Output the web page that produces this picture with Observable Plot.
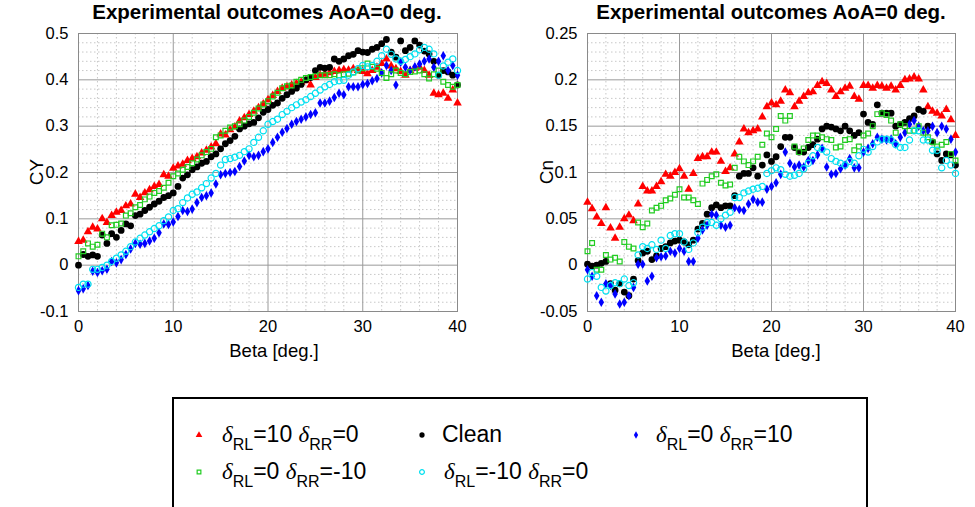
<!DOCTYPE html>
<html><head><meta charset="utf-8">
<script src="https://cdn.jsdelivr.net/npm/d3@7"></script>
<script src="https://cdn.jsdelivr.net/npm/@observablehq/plot@0.6"></script>
<style>
body{margin:0;background:#fff;}
#wrap{position:relative;width:975px;height:507px;overflow:hidden;font-family:"Liberation Sans",Arial,sans-serif;color:#000;}
.chart{position:absolute;top:0;}
.title{position:absolute;top:0px;font-weight:bold;font-size:20.5px;white-space:nowrap;transform:translateX(-50%);}
.xlab{position:absolute;top:340px;font-size:18.5px;white-space:nowrap;transform:translateX(-50%);}
.ylab{position:absolute;font-size:19px;white-space:nowrap;transform:translate(-50%,-50%) rotate(-90deg);}
#legend{position:absolute;left:172px;top:397px;width:696px;height:130px;border:2px solid #000;box-sizing:border-box;}
.item{position:absolute;font-size:23px;line-height:26px;white-space:nowrap;}
.d{font-family:"Liberation Serif",serif;font-style:italic;}
.s{font-size:16px;position:relative;top:8px;}
.sym{position:absolute;}
</style>
</head><body>
<div id="wrap"></div>
<script>
const beta = [0,0.5,1,1.5,2,2.5,3,3.5,4,4.5,5,5.5,6,6.5,7,7.5,8,8.5,9,9.5,10,10.5,11,11.5,12,12.5,13,13.5,14,14.5,15,15.5,16,16.5,17,17.5,18,18.5,19,19.5,20,20.5,21,21.5,22,22.5,23,23.5,24,24.5,25,25.5,26,26.5,27,27.5,28,28.5,29,29.5,30,30.5,31,31.5,32,32.5,33,33.5,34,34.5,35,35.5,36,36.5,37,37.5,38,38.5,39,39.5,40];

const seriesNames = ["δRL=10 δRR=0","Clean","δRL=0 δRR=10","δRL=0 δRR=-10","δRL=-10 δRR=0"];

// CY (left panel)
const cyRL10 = [0.051,0.054,0.072,0.082,0.078,0.100,0.092,0.107,0.114,0.118,0.128,0.132,0.153,0.146,0.156,0.163,0.170,0.174,0.195,0.192,0.209,0.214,0.218,0.226,0.230,0.234,0.242,0.248,0.255,0.262,0.283,0.281,0.292,0.298,0.311,0.318,0.325,0.332,0.340,0.348,0.357,0.366,0.375,0.382,0.385,0.389,0.392,0.395,0.398,0.389,0.405,0.410,0.412,0.415,0.418,0.420,0.422,0.421,0.424,0.420,0.418,0.413,0.420,0.427,0.435,0.445,0.430,0.424,0.418,0.410,0.420,0.425,0.427,0.420,0.410,0.371,0.368,0.371,0.360,0.378,0.350];
const cyClean = [0.000,0.023,0.019,0.022,0.019,0.065,0.047,0.068,0.060,0.075,0.089,0.085,0.107,0.110,0.118,0.125,0.132,0.138,0.146,0.150,0.156,0.170,0.188,0.195,0.206,0.212,0.220,0.224,0.234,0.240,0.251,0.262,0.269,0.278,0.294,0.300,0.305,0.308,0.318,0.330,0.336,0.345,0.350,0.360,0.368,0.375,0.382,0.390,0.400,0.405,0.420,0.427,0.425,0.427,0.445,0.440,0.445,0.452,0.455,0.463,0.460,0.459,0.466,0.470,0.478,0.487,0.460,0.449,0.484,0.463,0.470,0.484,0.475,0.462,0.456,0.440,0.410,0.420,0.417,0.410,0.389];
const cyRR10 = [-0.055,-0.051,-0.044,-0.013,-0.016,-0.012,-0.009,0.008,0.005,0.012,0.023,0.035,0.047,0.045,0.047,0.052,0.058,0.070,0.089,0.088,0.093,0.105,0.118,0.116,0.121,0.135,0.146,0.150,0.156,0.175,0.195,0.198,0.200,0.202,0.213,0.225,0.237,0.234,0.237,0.245,0.251,0.265,0.276,0.287,0.295,0.304,0.310,0.315,0.320,0.325,0.329,0.350,0.350,0.354,0.362,0.371,0.368,0.385,0.385,0.385,0.390,0.392,0.398,0.403,0.415,0.431,0.420,0.389,0.438,0.427,0.420,0.428,0.434,0.440,0.445,0.427,0.440,0.452,0.420,0.431,0.410];
const cyRRm10 = [0.019,0.030,0.047,0.040,0.044,0.068,0.060,0.086,0.087,0.090,0.107,0.112,0.125,0.130,0.142,0.148,0.156,0.160,0.167,0.178,0.192,0.198,0.206,0.212,0.220,0.228,0.237,0.244,0.251,0.276,0.280,0.290,0.297,0.300,0.304,0.312,0.320,0.329,0.338,0.347,0.354,0.364,0.372,0.382,0.386,0.388,0.396,0.400,0.404,0.406,0.408,0.410,0.410,0.410,0.412,0.410,0.412,0.413,0.416,0.420,0.425,0.435,0.428,0.424,0.415,0.404,0.412,0.420,0.415,0.412,0.417,0.418,0.420,0.412,0.403,0.412,0.420,0.396,0.389,0.385,0.389];
const cyRLm10 = [-0.048,-0.041,-0.041,-0.009,-0.009,-0.005,0.000,0.008,0.015,0.022,0.030,0.040,0.050,0.058,0.065,0.072,0.079,0.085,0.096,0.104,0.118,0.122,0.135,0.145,0.153,0.158,0.167,0.176,0.188,0.198,0.216,0.228,0.230,0.233,0.237,0.245,0.251,0.265,0.276,0.290,0.304,0.310,0.315,0.325,0.332,0.340,0.346,0.352,0.357,0.364,0.371,0.378,0.385,0.390,0.396,0.398,0.399,0.410,0.417,0.424,0.431,0.428,0.431,0.440,0.452,0.466,0.455,0.445,0.440,0.444,0.450,0.456,0.465,0.470,0.466,0.456,0.410,0.430,0.438,0.445,0.420];

// Cn (right panel)
const cnRL10 = [0.068,0.061,0.052,0.045,0.062,0.040,0.029,0.041,0.050,0.054,0.048,0.066,0.085,0.080,0.080,0.085,0.090,0.098,0.096,0.100,0.104,0.096,0.082,0.099,0.115,0.117,0.117,0.122,0.122,0.112,0.101,0.105,0.120,0.133,0.147,0.143,0.145,0.147,0.160,0.171,0.175,0.173,0.177,0.189,0.186,0.171,0.177,0.182,0.186,0.187,0.194,0.198,0.196,0.189,0.182,0.187,0.191,0.193,0.182,0.179,0.194,0.194,0.191,0.194,0.193,0.191,0.193,0.189,0.194,0.200,0.201,0.203,0.201,0.189,0.171,0.166,0.164,0.161,0.168,0.157,0.140];
const cnClean = [0.001,-0.001,0.000,0.002,0.004,-0.020,-0.027,-0.020,-0.029,-0.033,-0.015,0.005,0.013,0.015,0.006,0.010,0.018,0.020,0.024,0.026,0.027,0.025,0.022,0.027,0.039,0.045,0.055,0.062,0.065,0.062,0.064,0.064,0.075,0.096,0.099,0.099,0.105,0.096,0.108,0.119,0.112,0.117,0.128,0.138,0.138,0.127,0.122,0.122,0.127,0.130,0.136,0.147,0.150,0.149,0.147,0.145,0.150,0.145,0.140,0.143,0.163,0.154,0.152,0.173,0.164,0.164,0.164,0.150,0.152,0.154,0.158,0.161,0.168,0.166,0.150,0.133,0.120,0.113,0.120,0.119,0.108];
const cnRR10 = [-0.005,-0.012,-0.033,-0.040,-0.020,-0.022,-0.031,-0.042,-0.040,-0.033,-0.024,0.001,0.001,-0.017,-0.012,0.008,0.009,0.010,0.015,0.013,0.018,0.015,0.004,0.004,0.029,0.038,0.043,0.055,0.054,0.043,0.041,0.043,0.062,0.060,0.059,0.066,0.071,0.068,0.068,0.082,0.085,0.089,0.098,0.122,0.110,0.106,0.108,0.106,0.113,0.113,0.119,0.126,0.106,0.098,0.099,0.104,0.108,0.115,0.105,0.105,0.122,0.126,0.131,0.138,0.136,0.135,0.136,0.131,0.138,0.143,0.152,0.156,0.150,0.145,0.145,0.150,0.143,0.150,0.147,0.136,0.122];
const cnRRm10 = [0.015,0.024,-0.005,-0.005,0.011,0.006,0.008,0.004,0.025,0.020,0.018,0.046,0.041,0.045,0.059,0.062,0.064,0.070,0.072,0.076,0.082,0.073,0.073,0.070,0.066,0.088,0.092,0.096,0.098,0.089,0.086,0.087,0.105,0.117,0.112,0.108,0.112,0.117,0.130,0.142,0.138,0.147,0.161,0.156,0.161,0.128,0.122,0.126,0.135,0.140,0.140,0.138,0.136,0.135,0.127,0.128,0.135,0.136,0.124,0.128,0.140,0.142,0.150,0.163,0.164,0.162,0.156,0.143,0.152,0.150,0.145,0.145,0.150,0.143,0.138,0.133,0.128,0.130,0.133,0.120,0.113];
const cnRLm10 = [-0.015,-0.008,-0.012,-0.024,-0.028,-0.022,-0.019,-0.020,-0.015,-0.022,-0.019,0.011,0.020,0.018,0.022,0.017,0.027,0.018,0.032,0.034,0.034,0.025,0.017,0.024,0.035,0.041,0.046,0.046,0.043,0.050,0.054,0.057,0.073,0.073,0.078,0.080,0.082,0.083,0.085,0.099,0.102,0.105,0.103,0.098,0.096,0.097,0.099,0.104,0.110,0.118,0.127,0.125,0.122,0.115,0.112,0.110,0.108,0.112,0.110,0.118,0.125,0.122,0.128,0.133,0.136,0.136,0.135,0.130,0.127,0.127,0.135,0.145,0.145,0.135,0.135,0.124,0.124,0.105,0.113,0.108,0.099];

// axis ticks
const xTicks = [0,10,20,30,40];
const xMinor = [2,4,6,8,12,14,16,18,22,24,26,28,32,34,36,38];
const cyTicks = [-0.1,0,0.1,0.2,0.3,0.4,0.5];
const cyMinor = [-0.08,-0.06,-0.04,-0.02,0.02,0.04,0.06,0.08,0.12,0.14,0.16,0.18,0.22,0.24,0.26,0.28,0.32,0.34,0.36,0.38,0.42,0.44,0.46,0.48];
const cnTicks = [-0.05,0,0.05,0.1,0.15,0.2,0.25];
const cnMinor = [-0.04,-0.03,-0.02,-0.01,0.01,0.02,0.03,0.04,0.06,0.07,0.08,0.09,0.11,0.12,0.13,0.14,0.16,0.17,0.18,0.19,0.21,0.22,0.23,0.24];

const styles = [
  {symbol:"triangle", fill:"#ff0000", stroke:"none", r:3.2},
  {symbol:"circle", fill:"#000000", stroke:"none", r:3.4},
  {symbol:"diamond", fill:"#0000ff", stroke:"none", r:2.9},
  {symbol:"square", fill:"none", stroke:"#22cc22", r:2.7},
  {symbol:"circle", fill:"none", stroke:"#00e0f0", r:3.1}
];

function rows(arr){ return beta.map((b,i)=>({beta:b, v:arr[i]})); }

function panel(seriesArrays, yDomain, yTicks, yMinor, opts){
  const marks = [
    Plot.ruleX(xMinor, {stroke:"#c8c8c8", strokeDasharray:"1.5,2.5"}),
    Plot.ruleY(yMinor, {stroke:"#c8c8c8", strokeDasharray:"1.5,2.5"}),
    Plot.ruleX(xTicks, {stroke:"#9a9a9a"}),
    Plot.ruleY(yTicks, {stroke:"#9a9a9a"}),
    Plot.frame({stroke:"#8a8a8a"}),
    Plot.axisX(xTicks, {tickSize:0, tickPadding:9, fontSize:16.5, label:null, tickFormat:d=>String(d)}),
    Plot.axisY(yTicks, {tickSize:0, tickPadding:10, fontSize:16.5, label:null, tickFormat:d=>String(d)})
  ];
  seriesArrays.forEach((arr,k)=>{
    const s = styles[k];
    marks.push(Plot.dot(rows(arr), {x:"beta", y:"v", symbol:()=>s.symbol, r:s.r, fill:s.fill, stroke:s.stroke, strokeWidth:1.2}));
  });
  return Plot.plot({
    width:opts.width, height:345,
    marginLeft:opts.ml, marginRight:opts.mr, marginTop:33, marginBottom:34,
    x:{domain:[0,40]},
    y:{domain:yDomain},
    symbol:{type:"identity"},
    style:{fontFamily:"Liberation Sans, Arial, sans-serif", fontSize:"16.5px", color:"#000", background:"transparent"},
    marks
  });
}

const wrap = document.getElementById("wrap");

const left = panel([cyRL10, cyClean, cyRR10, cyRRm10, cyRLm10], [-0.1,0.5], cyTicks, cyMinor, {width:480, ml:78, mr:23});
left.classList.add("chart"); left.style.left = "0px";
wrap.appendChild(left);

const right = panel([cnRL10, cnClean, cnRR10, cnRRm10, cnRLm10], [-0.05,0.25], cnTicks, cnMinor, {width:467, ml:79, mr:20});
right.classList.add("chart"); right.style.left = "508px";
wrap.appendChild(right);

function addDiv(cls, html, css){
  const d = document.createElement("div");
  d.className = cls; d.innerHTML = html;
  Object.assign(d.style, css);
  wrap.appendChild(d);
  return d;
}
const titleText = "Experimental outcomes AoA=0 deg.";
addDiv("title", titleText, {left:"267px"});
addDiv("title", titleText, {left:"771px"});
addDiv("xlab", "Beta [deg.]", {left:"274px"});
addDiv("xlab", "Beta [deg.]", {left:"776px"});
addDiv("ylab", "CY", {left:"37px", top:"172px"});
addDiv("ylab", "Cn", {left:"547px", top:"172px"});

// legend
const legend = document.createElement("div");
legend.id = "legend";
wrap.appendChild(legend);

function fmtName(name){
  if (name === "Clean") return "Clean";
  return name.replace(/δ(R[LR])/g, '<span class="d">δ</span><span class="s">$1</span>');
}
const legendPos = [
  {sx:25, tx:48, y:36},
  {sx:248, tx:268, y:36},
  {sx:462, tx:482, y:36},
  {sx:25, tx:48, y:73},
  {sx:248, tx:270, y:73}
];
const legendOrder = [0,1,2,3,4];
legendOrder.forEach((k,i)=>{
  const p = legendPos[i], s = styles[k];
  const svg = d3.create("svg").attr("class","sym").attr("width",14).attr("height",14)
    .style("left",(p.sx-7)+"px").style("top",(p.y-7)+"px");
  const typ = {triangle:d3.symbolTriangle, circle:d3.symbolCircle, diamond:d3.symbolDiamond, square:d3.symbolSquare}[s.symbol];
  svg.append("path").attr("transform","translate(7,7)")
    .attr("d", d3.symbol(typ, Math.PI*s.r*s.r*0.6)())
    .attr("fill", s.fill).attr("stroke", s.stroke).attr("stroke-width",1.2);
  legend.appendChild(svg.node());
  const it = document.createElement("div");
  it.className = "item";
  it.style.left = p.tx+"px"; it.style.top = (p.y-14)+"px";
  it.innerHTML = fmtName(seriesNames[k]);
  legend.appendChild(it);
});
</script>
</body></html>
